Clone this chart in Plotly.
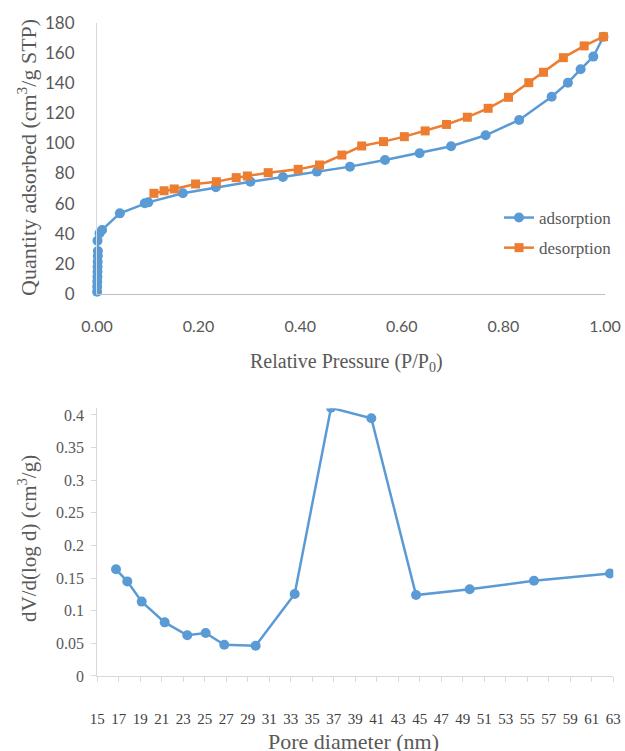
import plotly.graph_objects as go

# ---------------- data ----------------
ads_p = [0.0002, 0.0004, 0.0006, 0.0008, 0.0010, 0.0012, 0.0014, 0.0016, 0.0018,
         0.0010, 0.005, 0.010, 0.045, 0.094, 0.101, 0.169, 0.234, 0.302, 0.366,
         0.433, 0.498, 0.567, 0.635, 0.697, 0.765, 0.831, 0.895, 0.927, 0.952,
         0.977, 0.997]
ads_q = [1.5, 4.8, 8.2, 11.5, 14.8, 18.1, 21.4, 25.2, 28.5,
         35.4, 40.3, 42.5, 53.5, 60.2, 60.8, 66.8, 70.8, 74.5, 77.6,
         81.2, 84.5, 88.9, 93.4, 98.0, 105.3, 115.5, 130.9, 140.2, 149.1,
         157.5, 170.7]

des_p = [0.997, 0.959, 0.918, 0.879, 0.850, 0.810, 0.770, 0.729, 0.688, 0.646,
         0.605, 0.564, 0.521, 0.482, 0.438, 0.396, 0.337, 0.296, 0.274, 0.235,
         0.194, 0.152, 0.132, 0.112]
des_q = [170.7, 164.6, 156.8, 147.1, 140.2, 130.5, 123.2, 117.3, 112.5, 108.2,
         104.4, 101.1, 98.2, 92.2, 85.6, 82.7, 80.5, 78.3, 77.2, 74.5,
         73.0, 69.7, 68.5, 66.8]

pore_d = [16.74, 17.79, 19.13, 21.27, 23.37, 25.08, 26.81, 29.73, 33.36, 36.74,
          40.49, 44.65, 49.64, 55.62, 62.69]
dv_logd = [0.1635, 0.145, 0.114, 0.0822, 0.0624, 0.0659, 0.0479, 0.0464, 0.1257,
           0.411, 0.395, 0.124, 0.133, 0.146, 0.157]

p_ticks = [0, 0.2, 0.4, 0.6, 0.8, 1.0]
p_ticktext = ["0.00", "0.20", "0.40", "0.60", "0.80", "1.00"]
d_ticks = list(range(15, 64, 2))

# ---------------- layout helpers ----------------
W, H = 625, 751
def fx(px):
    return px / W
def fy(py):
    return 1 - py / H

BLUE = "#5B9BD5"
ORANGE = "#ED7D31"
GREY = "#595959"
SERIF = "Liberation Serif, Times New Roman, serif"
SANS = "Lato, Liberation Sans, sans-serif"

fig = go.Figure()
fig.add_trace(go.Scatter(
    x=ads_p, y=ads_q, mode="lines+markers", name="adsorption", legendgroup="a",
    line=dict(color=BLUE, width=2.5),
    marker=dict(symbol="circle", size=10, color=BLUE),
    xaxis="x", yaxis="y", cliponaxis=False))
fig.add_trace(go.Scatter(
    x=des_p, y=des_q, mode="lines+markers", name="desorption", legendgroup="b",
    line=dict(color=ORANGE, width=2.5),
    marker=dict(symbol="square", size=9, color=ORANGE),
    xaxis="x", yaxis="y", cliponaxis=False))
fig.add_trace(go.Scatter(
    x=pore_d, y=dv_logd, mode="lines+markers", showlegend=False,
    line=dict(color=BLUE, width=2.5),
    marker=dict(symbol="circle", size=10, color=BLUE),
    xaxis="x2", yaxis="y2", cliponaxis=True))

fig.update_layout(
    width=W, height=H, margin=dict(l=0, r=0, t=0, b=0, autoexpand=False),
    paper_bgcolor="white", plot_bgcolor="white",
    xaxis=dict(domain=[fx(97), fx(605)], range=[0, 1], anchor="y",
               tickvals=p_ticks, ticktext=p_ticktext,
               showline=True, linecolor="#BFBFBF", linewidth=1,
               showgrid=False, zeroline=False, ticks="",
               ticklabelstandoff=18, automargin=False,
               tickfont=dict(family=SANS, size=16, color=GREY)),
    yaxis=dict(domain=[fy(294), fy(22.7)], range=[0, 180], anchor="x",
               dtick=20, showline=True, linecolor="#D9D9D9", linewidth=1,
               showgrid=False, zeroline=False, ticks="",
               ticklabelstandoff=18, automargin=False,
               tickfont=dict(family=SANS, size=17, color=GREY)),
    xaxis2=dict(domain=[fx(97.3), fx(613.3)], range=[15, 63], anchor="y2",
                tickvals=d_ticks,
                showline=True, linecolor="#D9D9D9", linewidth=1,
                showgrid=False, zeroline=False, ticks="outside", ticklen=5,
                tickcolor="#D9D9D9", ticklabelstandoff=24, automargin=False,
                tickfont=dict(family=SERIF, size=15, color="#404040")),
    yaxis2=dict(domain=[fy(676), fy(676 - 0.41 * 652.5)], range=[0, 0.41], anchor="x2",
                tick0=0, dtick=0.05, showline=True, linecolor="#D9D9D9", linewidth=1,
                showgrid=False, zeroline=False, ticks="outside", ticklen=5,
                tickcolor="#D9D9D9", automargin=False, ticklabelstandoff=4,
                tickfont=dict(family=SERIF, size=16, color=GREY)),
    legend=dict(x=fx(499), y=fy(200), xanchor="left", yanchor="top",
                bgcolor="rgba(0,0,0,0)", tracegroupgap=5,
                font=dict(family=SERIF, size=17, color=GREY)),
    showlegend=True,
)

annos = [
    dict(text="Quantity adsorbed (cm<sup>3</sup>/g STP)", x=fx(27), y=fy(158), textangle=-90,
         font=dict(family=SERIF, size=22, color=GREY)),
    dict(text="Relative Pressure (P/P<sub>0</sub>)", x=fx(346), y=fy(362),
         font=dict(family=SERIF, size=20, color=GREY)),
    dict(text="dV/d(log d) (cm<sup>3</sup>/g)", x=fx(27), y=fy(539), textangle=-90,
         font=dict(family=SERIF, size=21, color=GREY)),
    dict(text="Pore diameter (nm)", x=fx(353), y=fy(741),
         font=dict(family=SERIF, size=22, color=GREY)),
]
for a in annos:
    fig.add_annotation(xref="paper", yref="paper", showarrow=False,
                       xanchor="center", yanchor="middle", **a)

# remove the page's default body margin so the figure fills the window exactly
fig.write_html(
    "out.html",
    config={"displayModeBar": False},
    post_script="document.body.style.margin='0px';"
                "document.documentElement.style.overflow='hidden';"
                "document.body.style.overflow='hidden';",
)
